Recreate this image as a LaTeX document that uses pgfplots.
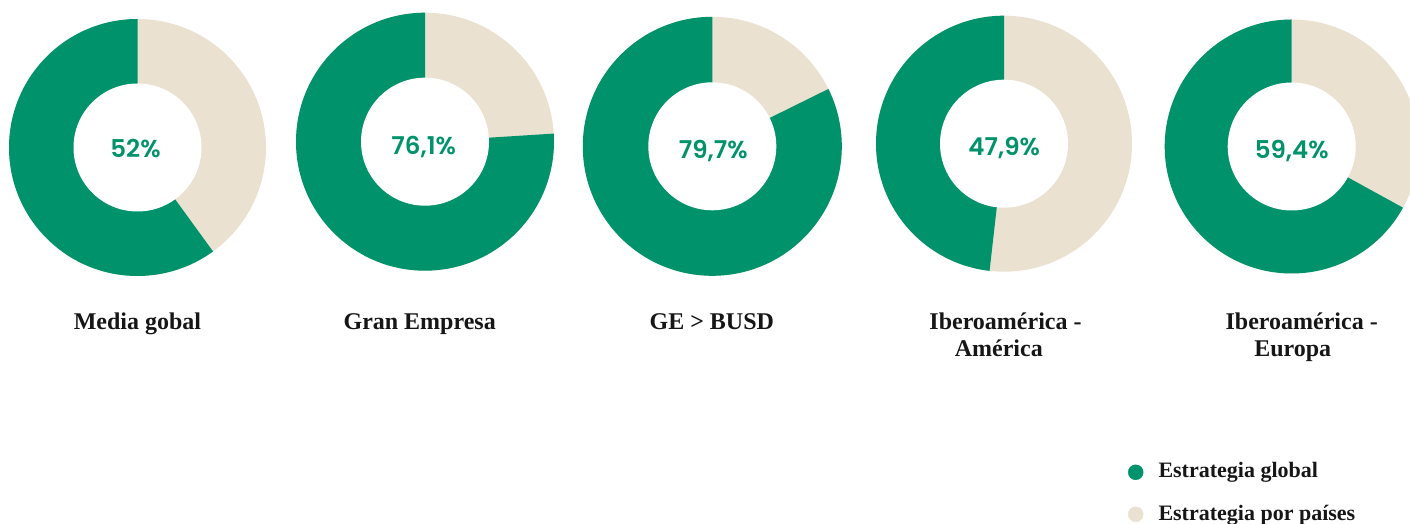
\documentclass[border=0pt]{standalone}
\usepackage{pgfplots}
\pgfplotsset{compat=1.18}
\usepackage{fontspec}
\setmainfont{Liberation Serif}
\newfontfamily\pop{Poppins SemiBold}
\definecolor{ggreen}{HTML}{00936B}
\definecolor{beige}{HTML}{EAE1D1}
\definecolor{ink}{HTML}{161616}

% centre x, centre y, outer radius, green share (%)
\newcommand{\donut}[4]{%
  \fill[beige] (axis cs:#1,#2) circle[radius=#3pt];
  \fill[ggreen] (axis cs:#1,#2) -- ++(90:#3pt) arc[start angle=90,delta angle=3.6*#4,radius=#3pt] -- cycle;
  \fill[white] (axis cs:#1,#2) circle[radius=64pt];}

\begin{document}
\begin{tikzpicture}
\path[use as bounding box] (0,0) rectangle (1410pt,524pt);
\begin{axis}[x=1pt,y=1pt,xmin=0,xmax=1410,ymin=0,ymax=524,hide axis,
  at={(0,0)},anchor=south west,clip=true]
  \donut{137.5}{376.5}{128.5}{60.0}
  \donut{425.0}{382.3}{129.0}{76.0}
  \donut{712.3}{377.7}{129.5}{82.3}
  \donut{1004.0}{380.3}{128.0}{48.2}
  \donut{1291.7}{377.5}{127.0}{67.0}

  \tikzset{pct/.style={anchor=base,ggreen,font=\pop\fontsize{24.5}{28}\selectfont},
           lab/.style={anchor=base,ink,font=\bfseries\fontsize{24}{28}\selectfont},
           leg/.style={anchor=base west,inner sep=0pt,ink,font=\bfseries\fontsize{22}{26}\selectfont}}
  \node[pct] at (axis cs:135.5,366.7) {52\%};
  \node[pct] at (axis cs:423.7,369.7) {76,1\%};
  \node[pct] at (axis cs:713.3,365.7) {79,7\%};
  \node[pct] at (axis cs:1004.2,368.7) {47,9\%};
  \node[pct] at (axis cs:1291.7,365.7) {59,4\%};

  \node[lab] at (axis cs:137.5,194.7) {Media gobal};
  \node[lab] at (axis cs:419.7,194.7) {Gran Empresa};
  \node[lab] at (axis cs:711.8,194.7) {GE > BUSD};
  \node[lab] at (axis cs:1005.5,194.0) {Iberoamérica -};
  \node[lab] at (axis cs:998.8,167.3) {América};
  \node[lab] at (axis cs:1301.7,194.0) {Iberoamérica -};
  \node[lab] at (axis cs:1292.7,167.3) {Europa};

  \addplot[only marks,mark=*,mark size=7.5pt,ggreen,mark options={draw=none,fill=ggreen}] coordinates {(1135.7,51.7)};
  \addplot[only marks,mark=*,mark size=7.5pt,beige,mark options={draw=none,fill=beige}] coordinates {(1135.7,9.7)};
  \node[leg] at (axis cs:1158.3,46.7) {Estrategia global};
  \node[leg] at (axis cs:1158.3,3.5) {Estrategia por países};
\end{axis}
\end{tikzpicture}
\end{document}
